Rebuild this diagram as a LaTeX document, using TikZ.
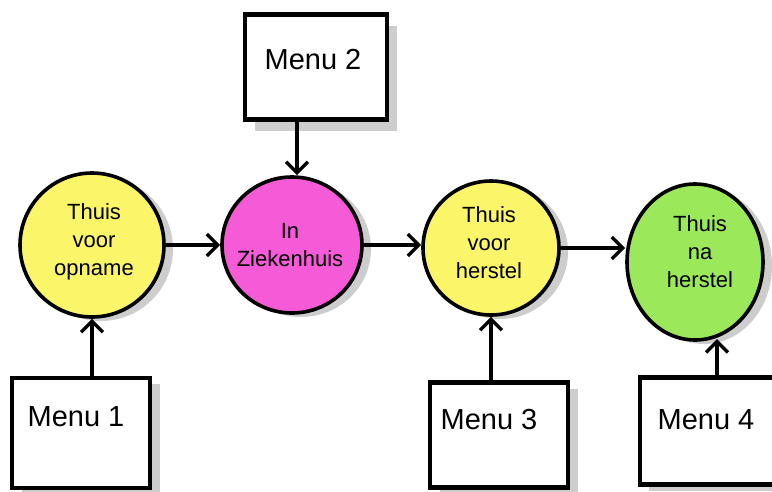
\documentclass[tikz,border=0pt]{standalone}
\usepackage{fontspec}
\setmainfont{Liberation Sans}
\usetikzlibrary{shapes.geometric,arrows.meta}
\definecolor{cyel}{RGB}{250,245,105}
\definecolor{cmag}{RGB}{245,90,215}
\definecolor{cgrn}{RGB}{155,232,90}
\definecolor{cshd}{RGB}{205,205,205}
\tikzset{
  blob/.style={ellipse, draw=black, line width=3.6pt, inner sep=0pt},
  blobshadow/.style={ellipse, fill=cshd, draw=none, inner sep=0pt},
  menubox/.style={rectangle, draw=black, fill=white, line width=4.6pt, inner sep=0pt},
  boxshadow/.style={rectangle, fill=cshd, draw=none, inner sep=0pt},
  circtext/.style={align=center, font=\fontsize{22}{28}\selectfont},
  menutext/.style={font=\fontsize{29}{34}\selectfont},
  conn/.style={line width=3.6pt, -{Straight Barb[length=11pt,width=22pt,line width=3.4pt]}},
}
\begin{document}
\begin{tikzpicture}[x=1pt,y=-1pt]
\useasboundingbox (0,0) rectangle (772,491);
% shadows
\node[blobshadow, minimum width=144pt, minimum height=144pt] (s1) at (101,249) {};
\node[blobshadow, minimum width=140pt, minimum height=136pt] (s2) at (301,249) {};
\node[blobshadow, minimum width=136pt, minimum height=134pt] (s3) at (500,252) {};
\node[blobshadow, minimum width=136pt, minimum height=156pt] (s4) at (704,266) {};
\node[boxshadow, minimum width=142pt, minimum height=105pt] (bs2) at (326,78) {};
\node[boxshadow, minimum width=138pt, minimum height=110pt] (bs1) at (91,439) {};
\node[boxshadow, minimum width=138pt, minimum height=105pt] (bs3) at (509,441) {};
\node[boxshadow, minimum width=134pt, minimum height=107pt] (bs4) at (716,437) {};
% circles
\node[blob, fill=cyel, minimum width=144pt, minimum height=144pt] (c1) at (92,245) {};
\node[blob, fill=cmag, minimum width=140pt, minimum height=136pt] (c2) at (292,245) {};
\node[blob, fill=cyel, minimum width=136pt, minimum height=134pt] (c3) at (491,248) {};
\node[blob, fill=cgrn, minimum width=136pt, minimum height=156pt] (c4) at (695,262) {};
\node[circtext] (t1) at (94,242) {Thuis\\voor\\opname};
\node[circtext] (t2) at (290,245) {In\\Ziekenhuis};
\node[circtext] (t3) at (489,243) {Thuis\\voor\\herstel};
\node[circtext] (t4) at (700,252) {Thuis\\na\\herstel};
% boxes
\node[menubox, minimum width=142pt, minimum height=105pt] (b2) at (316,67) {};
\node[menubox, minimum width=138pt, minimum height=110pt] (b1) at (81,433) {};
\node[menubox, minimum width=138pt, minimum height=105pt] (b3) at (499,435) {};
\node[menubox, minimum width=134pt, minimum height=107pt] (b4) at (707,431) {};
\node[menutext] (m2) at (313,60) {Menu 2};
\node[menutext] (m1) at (76,417) {Menu 1};
\node[menutext] (m3) at (489,420) {Menu 3};
\node[menutext] (m4) at (706,420) {Menu 4};
% connectors
\draw[conn] (b1.north -| c1.south) -- (c1.south);
\draw[conn] (b2.south -| 297,0) -- (c2.north -| 297,0);
\draw[conn] (b3.north -| c3.south) -- (c3.south);
\draw[conn] (b4.north -| 717,0) -- (717,339);
\draw[conn] (c1.east) -- (c2.west);
\draw[conn] (c2.east) -- (c3.west |- c2.east);
\draw[conn] (c3.east) -- (c4.west |- c3.east);
\end{tikzpicture}
\end{document}
